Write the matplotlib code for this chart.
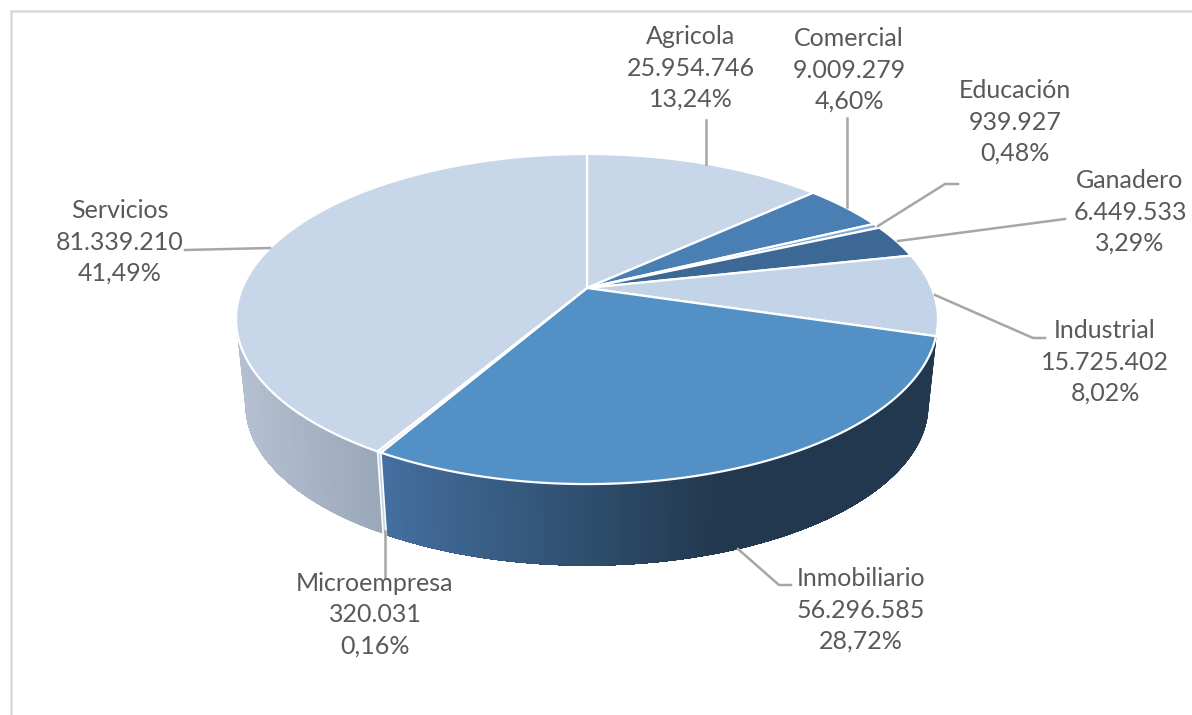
import numpy as np
import matplotlib
matplotlib.use("Agg")
import matplotlib.pyplot as plt
from matplotlib.colors import to_rgb

categories = ["Agricola", "Comercial", "Educación", "Ganadero", "Industrial",
              "Inmobiliario", "Microempresa", "Servicios"]
values = [25954746, 9009279, 939927, 6449533, 15725402, 56296585, 320031, 81339210]
value_labels = ["25.954.746", "9.009.279", "939.927", "6.449.533", "15.725.402",
                "56.296.585", "320.031", "81.339.210"]
percent_labels = ["13,24%", "4,60%", "0,48%", "3,29%", "8,02%", "28,72%", "0,16%", "41,49%"]
top_colors = ["#c8d6e9", "#4a7fb3", "#7fa9d8", "#3d6794", "#c3d3e8", "#5390c6", "#c5d5e8", "#c8d6e9"]

# layout (pixel space)
label_centers = [(691, 68), (849, 70), (1015, 122), (1130, 212), (1105, 362),
                 (861, 610), (375, 615), (120, 242)]
leaders = [
    [(706, 120), (706, 164)],
    [(847, 118), (847, 207)],
    [(958, 184), (945, 184), (878, 226)],
    [(1065, 219), (898, 241)],
    [(935, 295), (1033, 338), (1045, 338)],
    [(738, 549), (779, 585), (791, 585)],
    [(385, 531), (385, 578)],
    [(270, 248), (185, 250)],
]
CX, AY, A, B, K = 587, 288, 344.7, 159.2, 0.188
MID_Y, BOT_Y, BOT_S = 319, 405, 0.973

plt.rcParams["font.family"] = ["Lato", "DejaVu Sans"]
fig = plt.figure(figsize=(11.92, 7.15), dpi=100)
ax = fig.add_axes([0, 0, 1, 1])
ax.set_xlim(0, 1192)
ax.set_ylim(715, 0)
ax.axis("off")


def top_pt(t, r=1.0):
    u, v = r * np.sin(t), r * np.cos(t)
    d = 1 + K * v
    return CX + A * u / d, AY - B * v / d


def bot_pt(t):
    x, y = top_pt(t)
    return CX + BOT_S * (x - CX), BOT_Y + BOT_S * (y - MID_Y)


def lerp_color(c0, c1, f):
    a, b = np.array(to_rgb(c0)), np.array(to_rgb(c1))
    return tuple(a + (b - a) * f)


def side(t0, t1, color_at, z):
    # painted from t1 back to t0, each quad reaching the far end so that no seams show
    ts = np.linspace(t0, t1, max(int((t1 - t0) * 60), 2))
    for a, b in zip(ts[:-1], ts[1:]):
        arc = np.linspace(a, t1, 60)
        xt, yt = top_pt(arc)
        xb, yb = bot_pt(arc)
        col = color_at(top_pt((a + b) / 2)[0])
        ax.fill(np.r_[xt, xb[::-1]], np.r_[yt, yb[::-1]], color=col, lw=0, zorder=z)


fractions = np.array(values) / np.sum(values)
edges = np.concatenate([[0], np.cumsum(fractions)]) * 2 * np.pi
EXT = np.pi / 2 + np.arcsin(K)

# sides of the front slices
idx_inm = categories.index("Inmobiliario")
idx_mic = categories.index("Microempresa")
idx_ser = categories.index("Servicios")
side(EXT, edges[idx_inm + 1],
     lambda x: lerp_color("#22384e", "#436f9e", np.clip((720 - x) / 335, 0, 1)), 1)
side(edges[idx_mic], edges[idx_mic + 1], lambda x: "#c5d4e6", 2)
side(edges[idx_ser], 2 * np.pi - EXT,
     lambda x: lerp_color("#b4c0d2", "#9aa7b8", np.clip((x - 240) / 140, 0, 1)), 1)

# white boundaries of the front side faces
for e in (edges[idx_mic], edges[idx_mic + 1]):
    x0, y0 = top_pt(e)
    x1, y1 = bot_pt(e)
    ax.plot([x0, x1], [y0, y1], color="white", lw=1.1, zorder=3)

# top faces
for i in range(len(values)):
    ts = np.linspace(edges[i], edges[i + 1], max(int((edges[i + 1] - edges[i]) * 120), 3))
    xs, ys = top_pt(ts)
    ax.fill(np.r_[CX, xs], np.r_[AY, ys], facecolor=top_colors[i], edgecolor="white",
            lw=1.6, joinstyle="round", zorder=4)

# leaders
for pts in leaders:
    xs, ys = zip(*pts)
    ax.plot(xs, ys, color="#a6a6a6", lw=1.8, zorder=5, solid_joinstyle="miter")

# labels
for c, val, pct, (x, y) in zip(categories, value_labels, percent_labels, label_centers):
    ax.text(x, y, f"{c}\n{val}\n{pct}", ha="center", va="center", ma="center",
            fontsize=18, color="#595959", linespacing=1.45, zorder=6)

# frame
ax.plot([10.5, 10.5, 1192], [715, 10.5, 10.5], color="#d9d9d9", lw=1.8, zorder=0,
        solid_joinstyle="miter")

fig.savefig("out.png", dpi=100, facecolor="white")
